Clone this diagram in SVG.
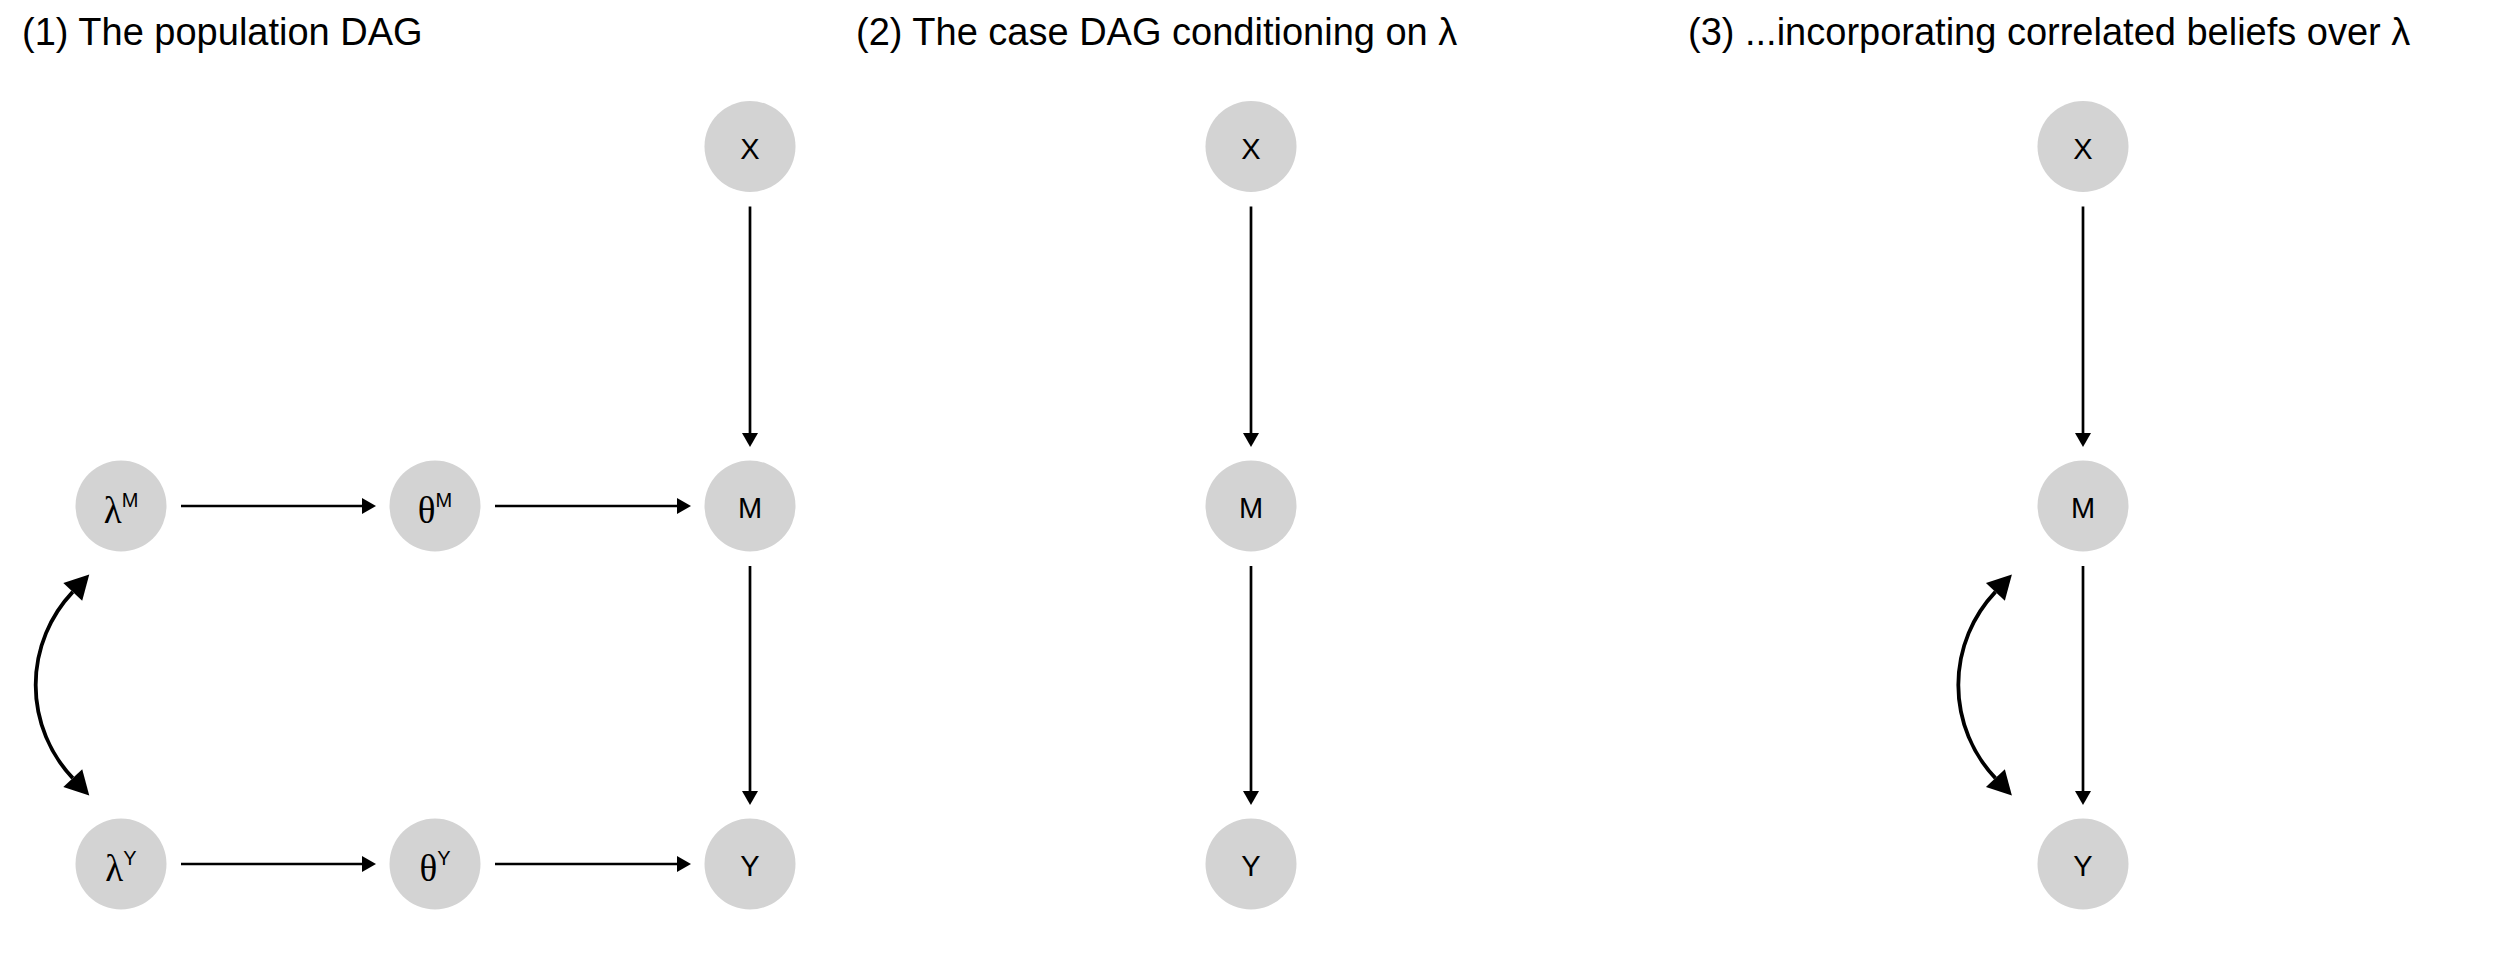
<svg xmlns="http://www.w3.org/2000/svg" width="2496" height="960" viewBox="0 0 2496 960">
<style>
.title{font-family:"Liberation Sans",Arial,sans-serif;font-size:38px;fill:#000}
.node circle{fill:#D3D3D3}
.lbl{font-family:"Liberation Sans",Arial,sans-serif;font-size:29px;fill:#000;text-anchor:middle}
.gr{font-family:"Liberation Serif","Times New Roman",serif;font-size:37px}
.sup{font-family:"Liberation Sans",Arial,sans-serif;font-size:20px}
.e{stroke:#000;stroke-width:2.7;fill:none;marker-end:url(#ah)}
.c{stroke:#000;stroke-width:3.8;fill:none;marker-start:url(#ahb);marker-end:url(#ahb)}
</style>
<defs>
<marker id="ah" markerUnits="userSpaceOnUse" markerWidth="16" markerHeight="18" refX="0" refY="8" orient="auto" overflow="visible">
<path d="M0,0 L14,8 L0,16 Z" fill="#000"/>
</marker>
<marker id="ahb" markerUnits="userSpaceOnUse" markerWidth="26" markerHeight="28" refX="0" refY="13" orient="auto-start-reverse" overflow="visible">
<path d="M0,0 L24,13 L0,26 Z" fill="#000"/>
</marker>
</defs>
<rect width="2496" height="960" fill="#fff"/>
<g id="titles">
<text class="title" x="22" y="45">(1) The population DAG</text>
<text class="title" x="856" y="45">(2) The case DAG conditioning on λ</text>
<text class="title" x="1688" y="45">(3) ...incorporating correlated beliefs over λ</text>
</g>
<g id="connectors">
<line class="e" x1="750" y1="206.5" x2="750" y2="433"/>
<line class="e" x1="750" y1="566" x2="750" y2="791"/>
<line class="e" x1="181" y1="506" x2="362" y2="506"/>
<line class="e" x1="495" y1="506" x2="677" y2="506"/>
<line class="e" x1="181" y1="864" x2="362" y2="864"/>
<line class="e" x1="495" y1="864" x2="677" y2="864"/>
<path class="c" d="M72.77,591.87 A135.5,135.5 0 0 0 72.77,778.13"/>
<line class="e" x1="1251" y1="206.5" x2="1251" y2="433"/>
<line class="e" x1="1251" y1="566" x2="1251" y2="791"/>
<line class="e" x1="2083" y1="206.5" x2="2083" y2="433"/>
<line class="e" x1="2083" y1="566" x2="2083" y2="791"/>
<path class="c" d="M1995.4,591.87 A135.5,135.5 0 0 0 1995.4,778.13"/>
</g>
<g id="p1-X" class="node"><circle cx="750" cy="146.5" r="45.5"/><text class="lbl" x="750" y="158.5">X</text></g>
<g id="p1-M" class="node"><circle cx="750" cy="506" r="45.5"/><text class="lbl" x="750" y="518">M</text></g>
<g id="p1-Y" class="node"><circle cx="750" cy="864" r="45.5"/><text class="lbl" x="750" y="876">Y</text></g>
<g id="p1-lambdaM" class="node"><circle cx="121" cy="506" r="45.5"/><text class="lbl" x="121" y="522.5"><tspan class="gr">λ</tspan><tspan class="sup" dy="-16">M</tspan></text></g>
<g id="p1-thetaM" class="node"><circle cx="435" cy="506" r="45.5"/><text class="lbl" x="435" y="522.5"><tspan class="gr">θ</tspan><tspan class="sup" dy="-16">M</tspan></text></g>
<g id="p1-lambdaY" class="node"><circle cx="121" cy="864" r="45.5"/><text class="lbl" x="121" y="880.5"><tspan class="gr">λ</tspan><tspan class="sup" dy="-16">Y</tspan></text></g>
<g id="p1-thetaY" class="node"><circle cx="435" cy="864" r="45.5"/><text class="lbl" x="435" y="880.5"><tspan class="gr">θ</tspan><tspan class="sup" dy="-16">Y</tspan></text></g>
<g id="p2-X" class="node"><circle cx="1251" cy="146.5" r="45.5"/><text class="lbl" x="1251" y="158.5">X</text></g>
<g id="p2-M" class="node"><circle cx="1251" cy="506" r="45.5"/><text class="lbl" x="1251" y="518">M</text></g>
<g id="p2-Y" class="node"><circle cx="1251" cy="864" r="45.5"/><text class="lbl" x="1251" y="876">Y</text></g>
<g id="p3-X" class="node"><circle cx="2083" cy="146.5" r="45.5"/><text class="lbl" x="2083" y="158.5">X</text></g>
<g id="p3-M" class="node"><circle cx="2083" cy="506" r="45.5"/><text class="lbl" x="2083" y="518">M</text></g>
<g id="p3-Y" class="node"><circle cx="2083" cy="864" r="45.5"/><text class="lbl" x="2083" y="876">Y</text></g>
</svg>
